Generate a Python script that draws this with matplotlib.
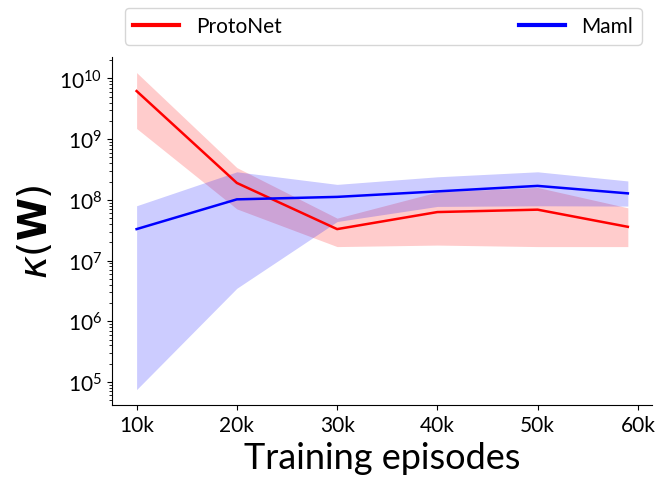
import matplotlib
matplotlib.use("Agg")
import matplotlib.pyplot as plt
from matplotlib.ticker import FuncFormatter
import numpy as np

plt.rcParams["font.family"] = ["Lato", "DejaVu Sans"]
plt.rcParams["mathtext.fontset"] = "dejavusans"

# training episodes
episodes = [10000, 20000, 30000, 40000, 50000, 59000]

# ProtoNet condition number: mean and band
proto_mean = [6.2e9, 1.9e8, 3.3e7, 6.3e7, 6.9e7, 3.6e7]
proto_low = [1.5e9, 7.1e7, 1.7e7, 1.8e7, 1.7e7, 1.7e7]
proto_high = [1.25e10, 3.4e8, 5.0e7, 1.35e8, 1.6e8, 7.4e7]

# Maml condition number: mean and band
maml_mean = [3.3e7, 1.02e8, 1.12e8, 1.38e8, 1.7e8, 1.28e8]
maml_low = [7.5e4, 3.5e6, 4.4e7, 7.8e7, 8.0e7, 7.9e7]
maml_high = [8.0e7, 2.9e8, 1.8e8, 2.4e8, 2.9e8, 2.05e8]

fig, ax = plt.subplots(figsize=(6.59, 4.81), dpi=100)
fig.subplots_adjust(left=0.17, right=0.99, top=0.88, bottom=0.155)

ax.plot(episodes, proto_mean, color="red", lw=1.8, label="ProtoNet")
ax.fill_between(episodes, proto_low, proto_high, color="red", alpha=0.2, lw=0)
ax.plot(episodes, maml_mean, color="blue", lw=1.8, label="Maml")
ax.fill_between(episodes, maml_low, maml_high, color="blue", alpha=0.2, lw=0)

ax.set_yscale("log")
ax.set_xticks([10000, 20000, 30000, 40000, 50000, 60000])
ax.xaxis.set_major_formatter(FuncFormatter(lambda v, p: f"{int(v / 1000)}k"))
ax.set_xlim(7550, 61450)
ax.tick_params(labelsize=15)

ax.set_xlabel("Training episodes", fontsize=26)
ax.set_ylabel(r"$\kappa(\mathbf{W})$", fontsize=28)

ax.spines["top"].set_visible(False)
ax.spines["right"].set_visible(False)

leg = ax.legend(loc="lower left", bbox_to_anchor=(0.024, 1.035, 0.956, 0.1),
                mode="expand", ncol=2, borderaxespad=0, fontsize=15,
                handlelength=2.2)
for line in leg.get_lines():
    line.set_linewidth(3)

fig.savefig("out.png", dpi=100)
